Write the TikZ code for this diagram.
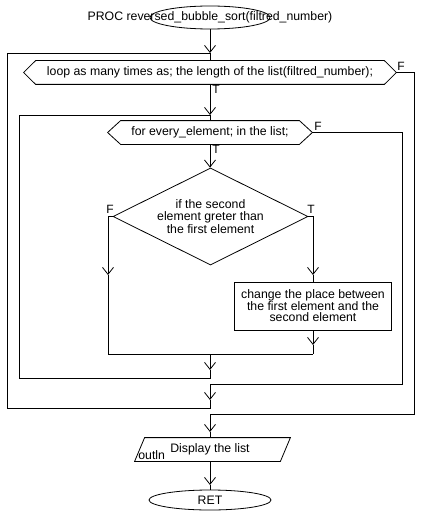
\documentclass[tikz,border=0pt]{standalone}
\usepackage{fontspec}
\setmainfont{Liberation Sans}
\usetikzlibrary{arrows.meta,shapes.geometric}
\begin{document}
\begin{tikzpicture}[x=1pt,y=-1pt, line width=0.8pt,
  every node/.style={font=\fontsize{12.3}{12}\selectfont},
  ar/.style={-{Straight Barb[length=7pt,width=11pt]}},
  lbl/.style={inner sep=0pt, font=\fontsize{12}{12}\selectfont}]
\useasboundingbox[fill=white] (0,0) rectangle (420,516);

% nodes
\node[draw, ellipse, minimum width=120pt, minimum height=23pt, inner sep=0pt] (start) at (210,17.5) {};
\node[inner sep=0pt] (starttxt) at (start.center) {PROC reversed\_bubble\_sort(filtred\_number)};

\node[minimum width=372pt, minimum height=23pt, inner sep=0pt] (loop) at (210,72.5) {loop as many times as; the length of the list(filtred\_number);};
\draw (loop.west) -- ([xshift=12pt]loop.north west) -- ([xshift=-12pt]loop.north east) -- (loop.east) -- ([xshift=-12pt]loop.south east) -- ([xshift=12pt]loop.south west) -- cycle;

\node[minimum width=204pt, minimum height=23pt, inner sep=0pt] (forl) at (210,132.5) {for every\_element; in the list;};
\draw (forl.west) -- ([xshift=13pt]forl.north west) -- ([xshift=-13pt]forl.north east) -- (forl.east) -- ([xshift=-13pt]forl.south east) -- ([xshift=13pt]forl.south west) -- cycle;

\node[draw, diamond, aspect=2, minimum width=195pt, minimum height=97pt, inner sep=0pt, align=center, font=\fontsize{12.3}{12.5}\selectfont] (cond) at (210.5,216.5) {if the second\\element greter than\\the first element};

\node[draw, rectangle, minimum width=157pt, minimum height=48pt, inner sep=0pt, align=center, font=\fontsize{12.3}{11.5}\selectfont] (swap) at (313,306) {change the place between\\the first element and the\\second element};

\node[minimum width=145pt, minimum height=23pt, inner sep=0pt] (out) at (212.5,449.5) {\hspace*{-5pt}Display the list};
\draw ([xshift=-5pt]out.south west) -- ([xshift=5pt]out.north west) -- ([xshift=5pt]out.north east) -- ([xshift=-5pt]out.south east) -- cycle;
\node[anchor=base west, inner sep=0pt] (outl) at (138,459.5) {outln};

\node[draw, ellipse, minimum width=122pt, minimum height=20pt, inner sep=0pt] (ret) at (210,500) {RET};

% coordinates
\coordinate (j1) at (210,53);
\coordinate (ol) at (7,53);
\coordinate (j2) at (210,115);
\coordinate (il) at (19,115);
\coordinate (lt) at (108,275);
\coordinate (rt) at (313,275);
\coordinate (mL) at (108,354);
\coordinate (mR) at (313,354);
\coordinate (st) at (313,345);
\coordinate (mC) at (210,354);
\coordinate (a6) at (210,370);
\coordinate (r1) at (210,378);
\coordinate (fR) at (402,384);
\coordinate (fC) at (210,384);
\coordinate (a7) at (210,400);
\coordinate (r2) at (210,408);
\coordinate (lR) at (414,414);
\coordinate (lC) at (210,414);
\coordinate (a8) at (210,432);
\coordinate (a9) at (210,485);

% connectors
\draw[ar] (start.south) -- (j1);
\draw (j1) -- (loop.north);
\draw[ar] (loop.south) -- (j2);
\draw (j2) -- (forl.north);
\draw[ar] (forl.south) -- (forl.south |- cond.north);
\draw[ar] (cond.west) -| (lt);
\draw (lt) -- (mL);
\draw[ar] (cond.east) -| (rt);
\draw (rt) -- (swap.north);
\draw[ar] (swap.south) -- (st);
\draw (st) -- (mR);
\draw (mL) -- (mR);
\draw[ar] (mC) -- (a6);
\draw (a6) -- (r1) -| (il) -- (j2);
\draw (forl.east) -| (fR) -- (fC);
\draw[ar] (fC) -- (a7);
\draw (a7) -- (r2) -| (ol) -- (j1);
\draw (loop.east) -| (lR) -- (lC);
\draw[ar] (lC) -- (a8);
\draw (a8) -- (a8 |- out.north);
\draw[ar] (a8 |- out.south) -- (a9);
\draw (a9) -- (ret.north);

% labels
\node[lbl, anchor=north west] (t1) at (212,85) {T};
\node[lbl, anchor=south west] (f1) at (397,71) {F};
\node[lbl, anchor=north west] (t2) at (212,145) {T};
\node[lbl, anchor=south west] (f2) at (314,131) {F};
\node[lbl, anchor=south west] (f3) at (106,214) {F};
\node[lbl, anchor=south west] (t3) at (307,214) {T};
\end{tikzpicture}
\end{document}
